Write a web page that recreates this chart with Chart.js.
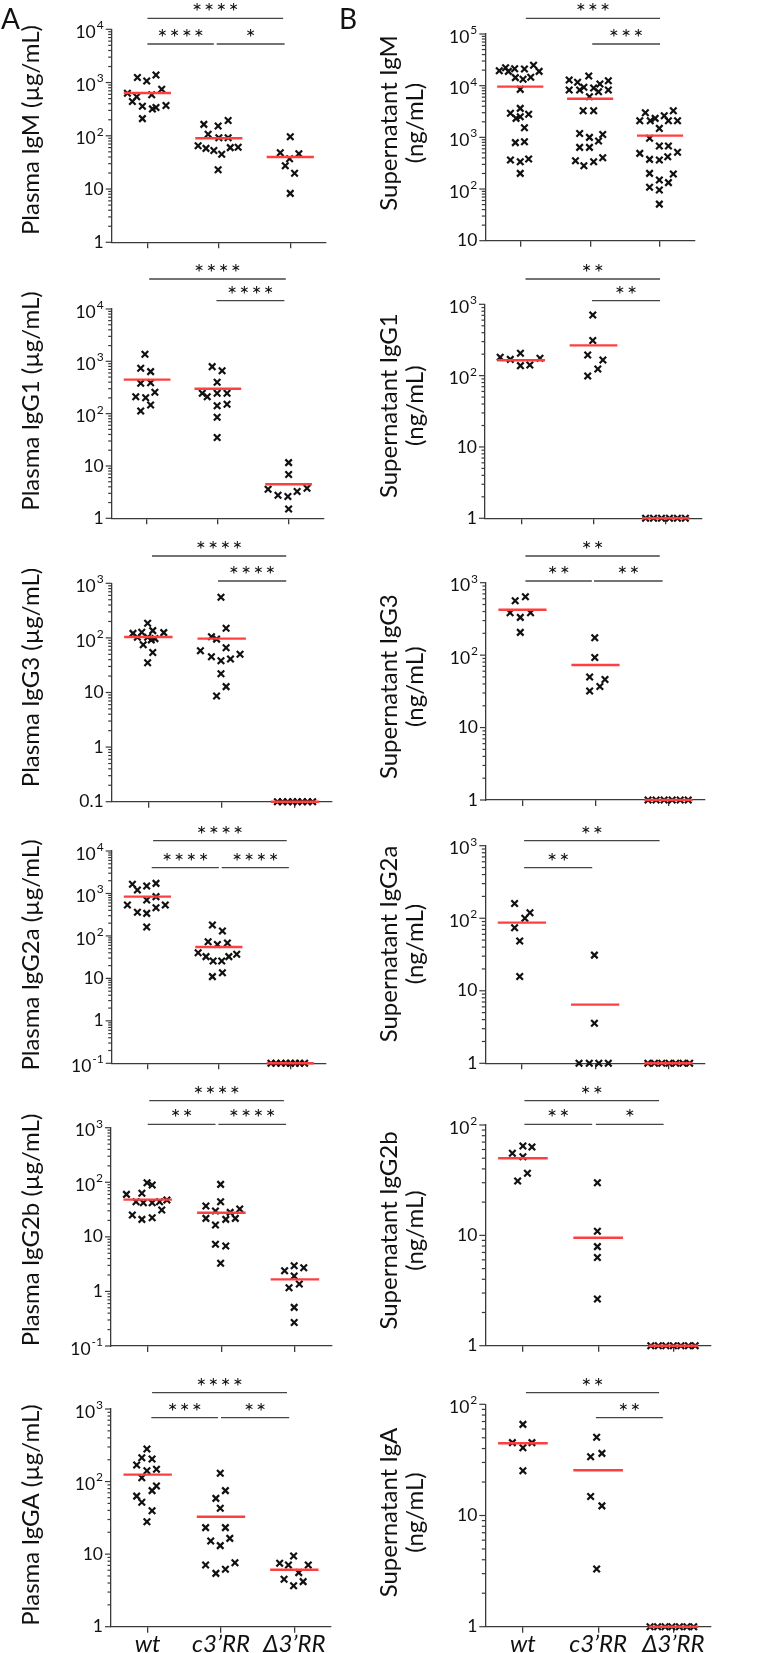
<!DOCTYPE html>
<html>
<head>
<meta charset="utf-8">
<script src="https://cdn.jsdelivr.net/npm/chart.js@4.4.1/dist/chart.umd.min.js"></script>
<style>
  html, body { margin: 0; padding: 0; background: #fff; }
  body { width: 761px; height: 1653px; position: relative; overflow: hidden; }
  canvas { position: absolute; }
</style>
</head>
<body>
<script>
// ---- data ----
const groups = ['wt', 'c3\u2019RR', '\u03943\u2019RR'];

// A: plasma (µg/mL)
const plasmaIgM = [
  [1240, 1070, 1390, 750, 630, 540, 590, 440, 360, 320, 340, 370, 210],
  [164, 153, 193, 107, 92, 92, 65, 58, 53, 45, 60, 61, 23],
  [96, 48, 37, 46, 27.5, 19.8, 8.3]
];
const plasmaIgMMean = [637, 90, 40];
const plasmaIgG1 = [
  [1360, 735, 635, 380, 391, 256, 211, 202, 146, 112],
  [791, 663, 397, 245, 211, 245, 245, 142, 151, 85, 35],
  [11.6, 6.9, 3.6, 2.75, 2.6, 3.24, 3.74, 1.51]
];
const plasmaIgG1Mean = [447, 300, 4.47];
const plasmaIgG3 = [
  [185, 121, 127, 136, 125, 103, 103, 97, 75, 92, 54, 35],
  [554, 150, 105, 95, 58, 66, 45, 38, 41, 50, 22, 12.8, 8.6],
  [0.1, 0.1, 0.1, 0.1, 0.1, 0.1, 0.1, 0.1]
];
const plasmaIgG3Mean = [104, 97, 0.1];
const plasmaIgG2a = [
  [1640, 1210, 1500, 1730, 841, 702, 535, 360, 340, 463, 535, 162],
  [181, 131, 73, 63, 68, 40, 32.5, 25.7, 25.7, 32.5, 36.9, 11, 13.6],
  [0.1, 0.1, 0.1, 0.1, 0.1, 0.1, 0.1, 0.1]
];
const plasmaIgG2aMean = [841, 55, 0.1];
const plasmaIgG2b = [
  [60, 62.7, 98, 89, 44, 42.3, 42.3, 44, 47.3, 25.1, 20.9, 22.4, 31],
  [91.6, 44, 36.7, 29.7, 21.8, 16.5, 20.9, 28.1, 21.8, 32.4, 7.3, 6.8, 3.27],
  [2.4, 2.96, 2.72, 1.92, 1.17, 1.37, 0.51, 0.27]
];
const plasmaIgG2bMean = [48, 27.7, 1.66];
const plasmaIgA = [
  [281, 213, 205, 169, 141, 148, 113, 87, 75, 63, 51.8, 39.7, 28],
  [130, 75, 58.7, 42.8, 23.2, 23.2, 15.2, 13.1, 16.5, 7.08, 5.43, 6.18, 7.63],
  [7.47, 7.08, 9.42, 7.08, 5.56, 4.5, 4.18, 3.67]
];
const plasmaIgAMean = [124.5, 32.8, 6.1];

// B: supernatant (ng/mL)
const supIgM = [
  [19500, 22300, 18900, 21300, 21000, 24800, 18900, 14300, 13300, 14500, 8490, 3640, 2920, 2790, 2330, 2510, 1540, 790, 820, 364, 338, 381, 201],
  [15400, 12900, 11600, 10800, 12500, 8250, 8250, 9290, 9020, 7650, 8250, 6120, 3280, 3280, 1190, 1000, 1140, 849, 640, 640, 353, 283, 338, 404],
  [3000, 2100, 2100, 2330, 2620, 3280, 2100, 2100, 1490, 957, 679, 679, 490, 375, 364, 423, 513, 201, 195, 149, 133, 108, 96, 51]
];
const supIgMMean = [9570, 5600, 1080];
const supIgG1 = [
  [181, 169, 206, 138, 141, 175],
  [709, 310, 195, 166, 124, 99],
  [1, 1, 1, 1, 1, 1]
];
const supIgG1Mean = [164, 266, 1];
const supIgG3 = [
  [565, 641, 385, 332, 385, 206],
  [174, 93, 50, 46, 37, 32],
  [1, 1, 1, 1, 1, 1]
];
const supIgG3Mean = [424, 73, 1];
const supIgG2a = [
  [160, 100, 119, 74, 48.5, 15.7],
  [31, 3.56, 1, 1, 1, 1],
  [1, 1, 1, 1, 1, 1, 1]
];
const supIgG2aMean = [87, 6.44, 1];
const supIgG2b = [
  [55.4, 64.5, 63.2, 51.6, 36.5, 31.1],
  [30, 10.9, 7.9, 6.3, 2.65],
  [1, 1, 1, 1, 1, 1, 1]
];
const supIgG2bMean = [49.9, 9.5, 1];
const supIgA = [
  [66, 45.2, 40.7, 45.2, 25.3],
  [50.5, 33.8, 36.2, 14.8, 12.2, 3.3],
  [1, 1, 1, 1, 1, 1, 1]
];
const supIgAMean = [44.6, 25.5, 1];

// horizontal scatter of the crosses inside each group (category units)
const plasmaIgMJitter = [
  [-0.14, -0.01, 0.12, 0.2, -0.28, -0.15, 0.06, -0.21, -0.07, 0.07, 0.12, 0.26, -0.07],
  [-0.21, -0.01, 0.13, -0.15, 0, 0.13, -0.29, -0.18, -0.07, 0.04, 0.16, 0.27, -0.01],
  [0, -0.14, -0.01, 0.12, -0.07, 0.06, 0]
];
const plasmaIgG1Jitter = [
  [-0.03, -0.09, 0.05, -0.09, 0.05, 0.11, -0.16, -0.02, 0.05, -0.09],
  [-0.08, 0.06, -0.01, -0.22, -0.15, -0.01, 0.13, -0.01, 0.13, -0.01, -0.01],
  [0, 0, -0.29, -0.15, -0.01, 0.12, 0.26, 0]
];
const plasmaIgG3Jitter = [
  [-0.01, -0.21, -0.09, 0.06, 0.21, -0.15, -0.01, 0.09, -0.07, 0.04, 0.06, -0.01],
  [-0.01, 0.06, -0.14, -0.07, -0.29, 0.06, -0.14, -0.01, 0.12, 0.25, -0.01, 0.06, -0.07],
  [-0.24, -0.17, -0.1, -0.03, 0.03, 0.1, 0.17, 0.24]
];
const plasmaIgG2aJitter = [
  [-0.21, -0.14, -0.01, 0.12, 0.12, -0.01, -0.28, -0.14, -0.01, 0.12, 0.25, -0.01],
  [-0.09, 0.05, -0.15, -0.02, 0.12, -0.29, -0.18, -0.08, 0.04, 0.14, 0.25, -0.09, 0.05],
  [-0.27, -0.2, -0.13, -0.06, 0, 0.07, 0.13, 0.2]
];
const plasmaIgG2bJitter = [
  [-0.29, -0.08, -0.01, 0.06, -0.16, -0.06, 0.06, 0.16, 0.26, -0.21, -0.08, 0.06, 0.19],
  [-0.01, -0.01, -0.21, -0.08, -0.21, -0.08, 0.06, 0.12, 0.19, 0.25, -0.08, 0.06, -0.01],
  [-0.14, -0.01, 0.12, -0.01, -0.08, 0.06, -0.01, -0.01]
];
const plasmaIgAJitter = [
  [-0.01, -0.08, 0.06, -0.15, -0.01, 0.12, -0.08, 0.12, 0.06, -0.15, -0.08, 0.06, -0.01],
  [-0.01, 0.06, -0.07, -0.01, -0.21, 0.06, -0.14, -0.01, 0.12, -0.21, -0.07, 0.06, 0.19],
  [-0.2, -0.08, -0.01, 0.19, 0.06, -0.14, 0.12, -0.01]
];
const supIgMJitter = [
  [-0.3, -0.21, -0.17, -0.08, 0.06, 0.19, 0.27, -0.07, 0.04, 0.15, 0, 0, -0.14, 0.12, -0.06, 0, 0.06, -0.07, 0.06, -0.14, 0, 0.12, 0],
  [-0.02, -0.3, -0.18, 0.14, 0.26, -0.3, -0.15, -0.09, 0.05, 0.12, 0.26, -0.01, -0.1, 0.05, -0.15, -0.01, 0.18, 0.12, -0.15, -0.01, -0.21, -0.09, 0.05, 0.18],
  [-0.21, -0.29, -0.14, -0.07, 0.06, 0.19, 0.12, 0.25, -0.01, -0.15, -0.01, 0.12, -0.29, -0.15, -0.01, 0.11, 0.25, -0.15, 0.19, -0.01, 0.12, -0.15, -0.01, -0.01]
];
const supIgG1Jitter = [
  [-0.29, -0.15, -0.01, -0.01, 0.12, 0.26],
  [-0.01, -0.01, -0.08, 0.13, 0.06, -0.08],
  [-0.28, -0.17, -0.06, 0.05, 0.16, 0.27]
];
const supIgG3Jitter = [
  [-0.1, 0.04, -0.17, -0.03, 0.11, -0.03],
  [-0.01, -0.01, -0.08, 0.13, 0.06, -0.08],
  [-0.28, -0.17, -0.06, 0.05, 0.16, 0.27]
];
const supIgG2aJitter = [
  [-0.1, 0.04, 0.11, -0.1, -0.03, -0.03],
  [-0.01, -0.01, -0.22, -0.08, 0.05, 0.18],
  [-0.28, -0.19, -0.09, 0.01, 0.1, 0.2, 0.29]
];
const supIgG2bJitter = [
  [-0.14, 0, 0.12, 0, 0.06, -0.07],
  [-0.01, -0.01, -0.01, -0.01, -0.01],
  [-0.3, -0.2, -0.1, 0, 0.1, 0.2, 0.29]
];
const supIgAJitter = [
  [0, -0.14, 0, 0.12, 0],
  [-0.02, -0.1, 0.05, -0.1, 0.05, -0.02],
  [-0.31, -0.21, -0.11, -0.02, 0.08, 0.18, 0.27]
];

// y tick labels, one per decade from the bottom ('^' = superscript)
const ticks1to1e4 = ['1', '10', '10^2', '10^3', '10^4'];
const ticks01to1e3 = ['0.1', '1', '10', '10^2', '10^3'];
const ticksE1to1e4 = ['10^-1', '1', '10', '10^2', '10^3', '10^4'];
const ticksE1to1e3 = ['10^-1', '1', '10', '10^2', '10^3'];
const ticks1to1e3 = ['1', '10', '10^2', '10^3'];
const ticks10to1e5 = ['10', '10^2', '10^3', '10^4', '10^5'];
const ticks1to1e2 = ['1', '10', '10^2'];

// ---- layout ----
const AXIS = '#3a3a3a';
const RED = '#ff3f3f';
const FONT = 'Lato, "Open Sans", sans-serif';
const rowTops = [0, 255, 535, 818, 1080, 1370, 1653];
const colLefts = [0, 380, 761];
const bracketRows = [[18.3, 44], [279, 300.7], [556, 581], [840.7, 867.7], [1100.7, 1124.3], [1392.7, 1417.7]];

const panels = [
  { col: 0, row: 0, box: [111.7, 29.3, 326, 242.3], exps: [0, 4], ticks: ticks1to1e4,
    values: plasmaIgM, jitter: plasmaIgMJitter, means: plasmaIgMMean,
    title: ['Plasma IgM (\u00b5g/mL)'], titleX: [31.7], titleY: 130,
    brackets: [[1.0, 2.9, 0, '****'], [1.0, 1.93, 1, '****'], [1.97, 2.92, 1, '*']] },
  { col: 0, row: 1, box: [111.7, 309, 324, 518.3], exps: [0, 4], ticks: ticks1to1e4,
    values: plasmaIgG1, jitter: plasmaIgG1Jitter, means: plasmaIgG1Mean,
    title: ['Plasma IgG1 (\u00b5g/mL)'], titleX: [31.7], titleY: 401,
    brackets: [[1.03, 2.96, 0, '****'], [1.98, 2.94, 1, '****']] },
  { col: 0, row: 2, box: [111.7, 583.3, 331.7, 801.7], exps: [-1, 3], ticks: ticks01to1e3,
    values: plasmaIgG3, jitter: plasmaIgG3Jitter, means: plasmaIgG3Mean,
    title: ['Plasma IgG3 (\u00b5g/mL)'], titleX: [31.7], titleY: 677.5,
    brackets: [[1.05, 2.88, 0, '****'], [1.95, 2.88, 1, '****']] },
  { col: 0, row: 3, box: [111.7, 851, 326, 1063.3], exps: [-1, 4], ticks: ticksE1to1e4,
    values: plasmaIgG2a, jitter: plasmaIgG2aJitter, means: plasmaIgG2aMean,
    title: ['Plasma IgG2a (\u00b5g/mL)'], titleX: [31.7], titleY: 955,
    brackets: [[1.08, 2.95, 0, '****'], [1.06, 2.0, 1, '****'], [2.04, 2.98, 1, '****']] },
  { col: 0, row: 4, box: [111, 1127.7, 331.7, 1346], exps: [-1, 3], ticks: ticksE1to1e3,
    values: plasmaIgG2b, jitter: plasmaIgG2bJitter, means: plasmaIgG2bMean,
    title: ['Plasma IgG2b (\u00b5g/mL)'], titleX: [31.7], titleY: 1230,
    brackets: [[1.02, 2.85, 0, '****'], [1.0, 1.92, 1, '**'], [1.96, 2.88, 1, '****']] },
  { col: 0, row: 5, box: [111, 1409, 331, 1626.7], exps: [0, 3], ticks: ticks1to1e3,
    values: plasmaIgA, jitter: plasmaIgAJitter, means: plasmaIgAMean,
    title: ['Plasma IgGA (\u00b5g/mL)'], titleX: [31.7], titleY: 1515,
    brackets: [[1.06, 2.9, 0, '****'], [1.05, 1.96, 1, '***'], [2.0, 2.93, 1, '**']] },
  { col: 1, row: 0, box: [485.3, 34, 695, 240.7], exps: [1, 5], ticks: ticks10to1e5,
    values: supIgM, jitter: supIgMJitter, means: supIgMMean,
    title: ['Supernatant IgM', '(ng/mL)'], titleX: [389, 415], titleY: 123,
    brackets: [[1.08, 3.0, 0, '***'], [2.03, 3.0, 1, '***']] },
  { col: 1, row: 1, box: [485, 304.3, 702, 518.3], exps: [0, 3], ticks: ticks1to1e3,
    values: supIgG1, jitter: supIgG1Jitter, means: supIgG1Mean,
    title: ['Supernatant IgG1', '(ng/mL)'], titleX: [389, 415], titleY: 405.7,
    brackets: [[1.06, 2.92, 0, '**'], [1.98, 2.92, 1, '**']] },
  { col: 1, row: 2, box: [486, 582.7, 705, 800], exps: [0, 3], ticks: ticks1to1e3,
    values: supIgG3, jitter: supIgG3Jitter, means: supIgG3Mean,
    title: ['Supernatant IgG3', '(ng/mL)'], titleX: [389, 415], titleY: 686.7,
    brackets: [[1.04, 2.88, 0, '**'], [1.04, 1.95, 1, '**'], [1.98, 2.92, 1, '**']] },
  { col: 1, row: 3, box: [485.3, 845.7, 705, 1063.3], exps: [0, 3], ticks: ticks1to1e3,
    values: supIgG2a, jitter: supIgG2aJitter, means: supIgG2aMean,
    title: ['Supernatant IgG2a', '(ng/mL)'], titleX: [389, 415], titleY: 944,
    brackets: [[1.03, 2.88, 0, '**'], [1.03, 1.96, 1, '**']] },
  { col: 1, row: 4, box: [485.3, 1125, 711, 1345.7], exps: [0, 2], ticks: ticks1to1e2,
    values: supIgG2b, jitter: supIgG2bJitter, means: supIgG2bMean,
    title: ['Supernatant IgG2b', '(ng/mL)'], titleX: [389, 415], titleY: 1230.5,
    brackets: [[1.02, 2.81, 0, '**'], [1.02, 1.92, 1, '**'], [1.97, 2.87, 1, '*']] },
  { col: 1, row: 5, box: [485.3, 1404.3, 711, 1626.7], exps: [0, 2], ticks: ticks1to1e2,
    values: supIgA, jitter: supIgAJitter, means: supIgAMean,
    title: ['Supernatant IgA', '(ng/mL)'], titleX: [389, 415], titleY: 1512.5,
    brackets: [[1.04, 2.81, 0, '**'], [1.97, 2.86, 1, '**']] }
];

function drawTickLabel(ctx, text, x, y) {
  const parts = text.split('^');
  const base = parts[0], exp = parts[1];
  ctx.textAlign = 'left';
  ctx.textBaseline = 'middle';
  ctx.font = '17.5px ' + FONT;
  const bw = ctx.measureText(base).width;
  let ew = 0;
  if (exp) {
    ctx.font = '12px ' + FONT;
    ew = ctx.measureText(exp).width + 1;
  }
  ctx.font = '17.5px ' + FONT;
  ctx.fillText(base, x - bw - ew, y + (exp ? 3 : 0));
  if (exp) {
    ctx.font = '12px ' + FONT;
    ctx.fillText(exp, x - ew + 1, y - 4);
  }
}

function decor(p, ox, oy) {
  return {
    id: 'decor',
    afterDraw(chart) {
      const ctx = chart.ctx, a = chart.chartArea;
      const xs = chart.scales.x, ys = chart.scales.y;
      ctx.save();
      // y tick marks, long at decades
      ctx.strokeStyle = AXIS;
      ctx.lineWidth = 1.2;
      ys.ticks.forEach(t => {
        const y = ys.getPixelForValue(t.value);
        const len = t.major ? 6 : 3.5;
        ctx.beginPath();
        ctx.moveTo(a.left - len, y);
        ctx.lineTo(a.left, y);
        ctx.stroke();
      });
      ctx.fillStyle = '#111';
      p.ticks.forEach((lab, i) => {
        drawTickLabel(ctx, lab, a.left - 8, ys.getPixelForValue(Math.pow(10, p.exps[0] + i)));
      });
      // axis title
      ctx.font = '24px ' + FONT;
      ctx.textAlign = 'center';
      ctx.textBaseline = 'middle';
      p.title.forEach((line, i) => {
        ctx.save();
        ctx.translate(p.titleX[i] - ox, p.titleY - oy);
        ctx.rotate(-Math.PI / 2);
        ctx.fillText(line, 0, 0);
        ctx.restore();
      });
      // significance brackets
      ctx.strokeStyle = '#444';
      ctx.lineWidth = 1.3;
      p.brackets.forEach(b => {
        const x1 = xs.getPixelForValue(b[0]), x2 = xs.getPixelForValue(b[1]);
        const y = bracketRows[p.row][b[2]] - oy;
        ctx.beginPath();
        ctx.moveTo(x1, y);
        ctx.lineTo(x2, y);
        ctx.stroke();
        ctx.font = '24px ' + FONT;
        ctx.letterSpacing = '2px';
        ctx.textBaseline = 'alphabetic';
        ctx.fillText(b[3], (x1 + x2) / 2 + 1, y + 2);
        ctx.letterSpacing = '0px';
      });
      // group names under the last row
      if (p.row === 5) {
        ctx.font = 'italic 24px ' + FONT;
        ctx.textAlign = 'center';
        ctx.textBaseline = 'alphabetic';
        groups.forEach((g, i) => ctx.fillText(g, xs.getPixelForValue(i + 1), 1652 - oy));
      }
      // panel letters
      if (p.row === 0 && p.col === 0) {
        ctx.font = '28px ' + FONT;
        ctx.textAlign = 'left';
        ctx.textBaseline = 'alphabetic';
        ctx.fillText('A', 1, 28.5);
        ctx.fillText('B', 339, 28.5);
      }
      ctx.restore();
    }
  };
}

panels.forEach(p => {
  const ox = colLefts[p.col], oy = rowTops[p.row];
  const w = colLefts[p.col + 1] - ox, h = rowTops[p.row + 1] - oy;
  const [L, T, R, B] = p.box;
  const cv = document.createElement('canvas');
  cv.width = w;
  cv.height = h;
  cv.style.left = ox + 'px';
  cv.style.top = oy + 'px';
  document.body.appendChild(cv);

  const datasets = [];
  p.means.forEach((m, g) => {
    datasets.push({
      data: [{ x: g + 1 - 0.33, y: m }, { x: g + 1 + 0.33, y: m }],
      showLine: true, borderColor: RED, borderWidth: 2.4,
      pointRadius: 0, order: 0, clip: false
    });
  });
  p.values.forEach((vals, g) => {
    datasets.push({
      data: vals.map((v, i) => ({ x: g + 1 + p.jitter[g][i], y: v })),
      pointStyle: 'crossRot', pointRadius: 4.6, borderWidth: 2.2,
      borderColor: '#111', backgroundColor: '#111', order: 1, clip: false
    });
  });

  new Chart(cv, {
    type: 'scatter',
    data: { datasets: datasets },
    options: {
      responsive: false,
      animation: false,
      events: [],
      layout: { padding: { top: T - oy, right: ox + w - R, left: 0, bottom: 0 } },
      plugins: { legend: { display: false }, tooltip: { enabled: false } },
      scales: {
        x: {
          type: 'linear', min: 0.5, max: 3.5,
          afterBuildTicks: s => { s.ticks = groups.map((g, i) => ({ value: i + 1 })); },
          afterFit: s => { s.height = oy + h - B; },
          grid: { display: true, drawOnChartArea: false, drawTicks: true, tickLength: 6,
                  color: AXIS, lineWidth: 1.3, tickColor: AXIS, tickWidth: 1.3 },
          border: { display: true, color: AXIS, width: 1.3 },
          ticks: { display: false }
        },
        y: {
          type: 'logarithmic', min: Math.pow(10, p.exps[0]), max: Math.pow(10, p.exps[1]),
          afterBuildTicks: s => {
            const t = [];
            for (let e = p.exps[0]; e < p.exps[1]; e++) {
              for (let k = 1; k < 10; k++) t.push({ value: k * Math.pow(10, e), major: k === 1 });
            }
            t.push({ value: Math.pow(10, p.exps[1]), major: true });
            s.ticks = t;
          },
          afterFit: s => { s.width = L - ox; },
          grid: { display: false },
          border: { display: true, color: AXIS, width: 1.3 },
          ticks: { display: false }
        }
      }
    },
    plugins: [decor(p, ox, oy)]
  });
});
</script>
</body>
</html>
